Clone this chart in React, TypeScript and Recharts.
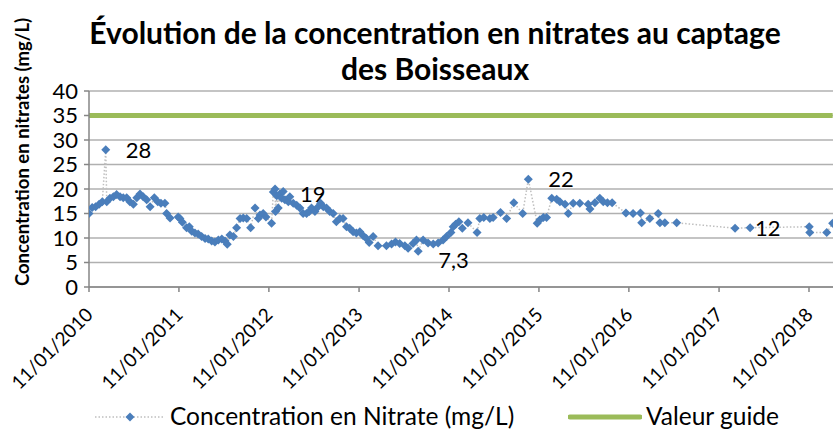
import React from 'react';
import {
  LineChart, Line, XAxis, YAxis, CartesianGrid,
} from 'recharts';

const DATES = [
  '2010-01-11', '2010-01-24', '2010-02-07', '2010-02-21', '2010-03-06', '2010-03-20', '2010-03-24', '2010-04-06',
  '2010-04-20', '2010-05-03', '2010-05-17', '2010-05-30', '2010-06-13', '2010-06-26', '2010-07-10', '2010-07-24',
  '2010-08-06', '2010-08-19', '2010-09-02', '2010-09-16', '2010-10-03', '2010-10-17', '2010-10-30', '2010-11-15',
  '2010-11-22', '2010-12-06', '2011-01-08', '2011-01-15', '2011-01-25', '2011-02-11', '2011-02-22', '2011-03-04',
  '2011-03-17', '2011-03-30', '2011-04-13', '2011-04-27', '2011-05-10', '2011-05-24', '2011-06-06', '2011-06-20',
  '2011-07-04', '2011-07-17', '2011-07-26', '2011-08-06', '2011-08-20', '2011-09-02', '2011-09-16', '2011-09-29',
  '2011-10-13', '2011-10-29', '2011-11-16', '2011-11-29', '2011-12-06', '2011-12-19', '2011-12-30', '2012-01-22',
  '2012-01-29', '2012-02-05', '2012-02-07', '2012-02-12', '2012-02-18', '2012-02-25', '2012-03-03', '2012-03-09',
  '2012-03-16', '2012-03-30', '2012-04-05', '2012-04-19', '2012-05-03', '2012-05-16', '2012-05-29', '2012-06-12',
  '2012-06-23', '2012-07-02', '2012-07-16', '2012-07-29', '2012-08-08', '2012-08-19', '2012-09-01', '2012-09-14',
  '2012-09-28', '2012-10-11', '2012-10-25', '2012-11-07', '2012-11-21', '2012-12-04', '2012-12-18', '2012-12-31',
  '2013-01-14', '2013-01-27', '2013-02-10', '2013-02-21', '2013-03-09', '2013-03-29', '2013-05-02', '2013-05-23',
  '2013-06-08', '2013-06-25', '2013-07-16', '2013-07-29', '2013-08-18', '2013-09-01', '2013-09-08', '2013-09-28',
  '2013-10-18', '2013-11-08', '2013-11-28', '2013-12-18', '2014-01-01', '2014-01-19', '2014-01-28', '2014-02-07',
  '2014-02-20', '2014-03-06', '2014-03-29', '2014-05-05', '2014-05-16', '2014-06-01', '2014-06-26', '2014-07-09',
  '2014-08-08', '2014-09-02', '2014-10-01', '2014-11-06', '2014-11-29', '2015-01-04', '2015-01-15', '2015-01-29',
  '2015-02-11', '2015-03-04', '2015-03-24', '2015-04-06', '2015-04-27', '2015-05-10', '2015-05-30', '2015-06-26',
  '2015-07-30', '2015-08-06', '2015-08-26', '2015-09-15', '2015-09-29', '2015-10-16', '2015-11-04', '2015-12-30',
  '2016-01-28', '2016-02-27', '2016-03-03', '2016-04-05', '2016-05-09', '2016-05-16', '2016-06-05', '2016-07-23',
  '2017-03-17', '2017-05-17', '2018-01-12', '2018-01-14', '2018-03-24', '2018-04-17',
];
const NITRATE = [
  15.0, 16.2, 16.4, 16.9, 17.4, 28, 17.4, 18.1,
  18.4, 18.9, 18.4, 18.2, 18.2, 17.4, 16.9, 18.2,
  19.0, 18.4, 17.8, 16.4, 18.2, 17.4, 17.1, 17.1,
  15.0, 14.1, 14.3, 14.0, 13.2, 12.1, 12.3, 11.4,
  11.0, 10.8, 10.3, 9.9, 9.8, 9.4, 9.2, 9.6,
  9.8, 9.4, 8.7, 10.6, 10.3, 12.1, 14.0, 14.1,
  14.0, 12.1, 16.1, 14.0, 14.7, 15.0, 14.3, 13.0,
  19.4, 20.0, 15.4, 18.6, 16.1, 19, 18.1, 19.5,
  17.8, 17.4, 18.4, 17.1, 16.7, 16.1, 15.0, 15.0,
  15.4, 16.1, 15.4, 16.4, 17.1, 16.4, 16.1, 15.4,
  15.0, 13.3, 14.0, 14.0, 12.3, 12.0, 11.3, 11.0,
  11.3, 10.5, 9.9, 9.1, 10.3, 8.4, 8.4, 8.8,
  9.2, 8.9, 8.4, 7.9, 8.9, 9.6, 7.3, 9.6,
  9.0, 8.8, 9.0, 9.6, 10.3, 11.1, 12.3, 12.8,
  13.3, 12.0, 13.1, 11.1, 14.0, 14.2, 14.0, 14.2,
  15.2, 14.0, 17.2, 15.0, 22, 13.0, 13.7, 14.2,
  14.2, 18.1, 17.9, 17.4, 16.9, 15.0, 17.1, 17.1,
  16.9, 15.9, 17.2, 18.1, 17.4, 17.2, 17.2, 15.1,
  15.0, 15.1, 13.1, 14.0, 15.0, 13.1, 13.1, 13.1,
  12, 12.1, 12.3, 11.1, 11.1, 13.0,
];
const GUIDE_VALUE = 35;
const LABELED_DATES = ['2010-03-20', '2012-02-25', '2013-09-08', '2014-11-29', '2017-03-17'];
const TICK_YEARS = [2010, 2011, 2012, 2013, 2014, 2015, 2016, 2017, 2018];
const Y_TICKS = [0, 5, 10, 15, 20, 25, 30, 35, 40];

const DOMAIN_START = Date.UTC(2010, 0, 11);
const DOMAIN_END = Date.UTC(2018, 7, 6);
const TICK_TIMES = TICK_YEARS.map(y => Date.UTC(y, 0, 11));

const data = DATES.map((d, i) => ({
  t: new Date(d).getTime(),
  date: d,
  value: NITRATE[i],
  guide: GUIDE_VALUE,
}));

const FONT = 'Lato, "Open Sans", sans-serif';
const BLUE = '#4a7ebb';
const GREEN = '#9bbb59';

const fmt = (v: number) => String(v).replace('.', ',');

const Diamond = (props: any) => {
  const { cx, cy, index, payload } = props;
  if (cx == null || cy == null) return null;
  const r = 4.5;
  const labeled = LABELED_DATES.includes(payload.date);
  const below = payload.date === '2013-09-08';
  return (
    <g key={`d-${index}`}>
      <path d={`M${cx},${cy - r}L${cx + r},${cy}L${cx},${cy + r}L${cx - r},${cy}Z`} fill={BLUE} />
      {labeled && (
        <text x={cx + 20} y={cy + (below ? 9 : 0)} dy="0.36em" fontSize={22} fill="#000" fontFamily={FONT}>
          {fmt(payload.value)}
        </text>
      )}
    </g>
  );
};

const XTick = ({ x, y, payload }: any) => {
  const d = new Date(payload.value);
  const label = `11/01/${d.getUTCFullYear()}`;
  const ax = x + 5;
  const ay = y + 24;
  return (
    <text x={ax} y={ay} transform={`rotate(-45 ${ax} ${ay})`} textAnchor="end" fontSize={19} fill="#000" fontFamily={FONT}>
      {label}
    </text>
  );
};

export default function App() {
  return (
    <div style={{ position: 'absolute', left: 0, top: 0, width: 833, height: 430, overflow: 'hidden', background: '#fff', fontFamily: FONT }}>
      <div style={{ position: 'absolute', left: 0, top: 14, width: 870, textAlign: 'center', fontWeight: 700, fontSize: 30, lineHeight: '36px', color: '#000' }}>
        Évolution de la concentration en nitrates au captage<br />des Boisseaux
      </div>
      <div style={{ position: 'absolute', left: 22, top: 152, transform: 'translate(-50%, -50%) rotate(-90deg)', whiteSpace: 'nowrap', fontWeight: 700, fontSize: 18.5, color: '#000' }}>
        Concentration en nitrates (mg/L)
      </div>
      <LineChart width={870} height={430} data={data} margin={{ top: 91, right: 10, bottom: 43, left: 0 }}>
        <CartesianGrid vertical={false} stroke="#b0b0b0" strokeWidth={1.5} />
        <XAxis
          dataKey="t"
          type="number"
          domain={[DOMAIN_START, DOMAIN_END]}
          ticks={TICK_TIMES}
          allowDataOverflow
          height={100}
          tickSize={5}
          tickMargin={0}
          tick={<XTick />}
          stroke="#868686"
          strokeWidth={1.5}
          interval={0}
        />
        <YAxis
          domain={[0, 40]}
          ticks={Y_TICKS}
          width={89}
          tickSize={5}
          tickMargin={6}
          stroke="#868686"
          strokeWidth={1.5}
          tick={{ fontSize: 22, fill: '#000', fontFamily: FONT }}
          interval={0}
        />
        <Line
          dataKey="guide"
          stroke={GREEN}
          strokeWidth={5}
          dot={false}
          activeDot={false}
          isAnimationActive={false}
        />
        <Line
          dataKey="value"
          stroke="#bfbfbf"
          strokeWidth={1.5}
          strokeDasharray="1.5 2"
          dot={<Diamond />}
          activeDot={false}
          isAnimationActive={false}
        />
      </LineChart>
      <div style={{ position: 'absolute', left: 0, top: 401, width: 833, height: 29, fontSize: 24.5, color: '#000' }}>
        <svg style={{ position: 'absolute', left: 95, top: 5 }} width={70} height={22}>
          <line x1={0} y1={11} x2={68} y2={11} stroke="#bfbfbf" strokeWidth={1.5} strokeDasharray="1.5 2" />
          <path d="M35,6.5L39.5,11L35,15.5L30.5,11Z" fill={BLUE} />
        </svg>
        <span style={{ position: 'absolute', left: 170, top: 0, whiteSpace: 'nowrap', lineHeight: '30px' }}>
          Concentration en Nitrate (mg/L)
        </span>
        <svg style={{ position: 'absolute', left: 568, top: 5 }} width={74} height={22}>
          <line x1={2} y1={11} x2={72} y2={11} stroke={GREEN} strokeWidth={5} strokeLinecap="round" />
        </svg>
        <span style={{ position: 'absolute', left: 646, top: 0, whiteSpace: 'nowrap', lineHeight: '30px' }}>
          Valeur guide
        </span>
      </div>
    </div>
  );
}
